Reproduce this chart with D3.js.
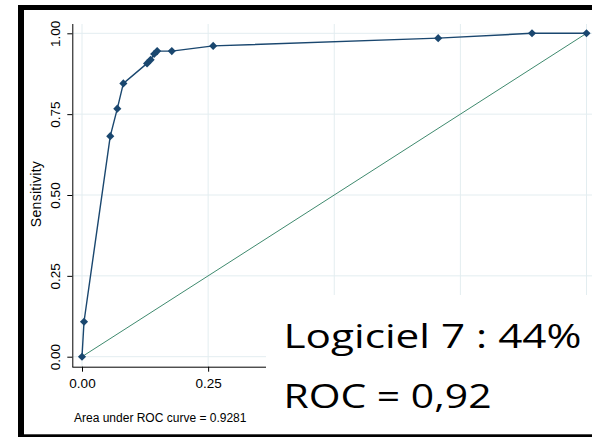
<!DOCTYPE html>
<html lang="en">
  <head>
    <style>
      body { margin: 0; background: #fff; }
      svg text { font-family: "Liberation Sans", Arial, sans-serif; }
      .grid line { stroke: #e3edf0; stroke-width: 1; }
    </style>
  </head>
  <body>
    <svg id="container" width="592" height="437"></svg>
  </body>
  <script src="https://d3js.org/d3.v7.min.js"></script>
  <script>
let svg = d3.select("#container")

// ROC points (1 - specificity, sensitivity)
let fpr  = [0, 0.004, 0.056, 0.070, 0.082, 0.129, 0.136, 0.143, 0.149, 0.178, 0.260, 0.706, 0.892, 1.0]
let sens = [0, 0.108, 0.682, 0.767, 0.845, 0.907, 0.918, 0.936, 0.945, 0.945, 0.961, 0.985, 1.0, 1.0]
let tickValues = [0, 0.25, 0.5, 0.75, 1]
let tickLabels = ["0.00", "0.25", "0.50", "0.75", "1.00"]
let yTitle = "Sensitivity"
let note = "Area under ROC curve = 0.9281"
let overlayLines = ["Logiciel 7 : 44%", "ROC = 0,92"]

let x = d3.scaleLinear().domain([0, 1]).range([82, 586.5])
let y = d3.scaleLinear().domain([0, 1]).range([356.7, 33.3])

let points = fpr.map((d, i) => ({ x: d, y: sens[i] }))

// the pasted white box hides the right part of the x axis
let box = { x: 266, y: 295 }

// grid
let grid = svg.append("g").attr("class", "grid")
grid.selectAll(".gx")
    .data(tickValues)
    .enter()
    .append("line")
        .attr("x1", d => x(d)).attr("x2", d => x(d))
        .attr("y1", 24).attr("y2", 366)
grid.selectAll(".gy")
    .data(tickValues)
    .enter()
    .append("line")
        .attr("x1", 73).attr("x2", 592)
        .attr("y1", d => y(d)).attr("y2", d => y(d))

// axes
let xAxis = d3.axisBottom(x)
    .tickValues(tickValues)
    .tickFormat((d, i) => tickLabels[i])
    .tickSize(5)
    .tickSizeOuter(0)
let yAxis = d3.axisLeft(y)
    .tickValues(tickValues)
    .tickFormat((d, i) => tickLabels[i])
    .tickSize(5)
    .tickSizeOuter(0)

let gx = svg.append("g").attr("transform", "translate(0,366.7)").call(xAxis)
gx.select(".domain").attr("d", "M72.3,0.5H592")
gx.selectAll(".tick").filter(d => x(d) > box.x).select("text").remove()
gx.selectAll("text")
    .attr("y", 12)
    .attr("dy", "0.71em")
    .style("font-size", "13.5px")
    .style("font-family", "'Liberation Sans', Arial, sans-serif")
    .attr("fill", "#000")

let gy = svg.append("g").attr("transform", "translate(72.3,0)").call(yAxis)
gy.select(".domain").attr("d", "M0.5,24V367")
gy.selectAll("text")
    .attr("x", 0).attr("dy", 0)
    .attr("text-anchor", "middle")
    .attr("transform", "translate(-12,0) rotate(-90)")
    .style("font-size", "13.5px")
    .style("font-family", "'Liberation Sans', Arial, sans-serif")
    .attr("fill", "#000")

// reference diagonal
svg.append("line")
    .attr("x1", x(0)).attr("y1", y(0))
    .attr("x2", x(1)).attr("y2", y(1))
    .attr("stroke", "#3f8a6e")
    .attr("stroke-width", 1)

// ROC curve
let line = d3.line().x(d => x(d.x)).y(d => y(d.y))
svg.append("path")
    .datum(points)
    .attr("d", line)
    .attr("fill", "none")
    .attr("stroke", "#1a476f")
    .attr("stroke-width", 1.4)

svg.append("g")
    .selectAll("path")
    .data(points)
    .enter()
    .append("path")
        .attr("d", d3.symbol(d3.symbolDiamond2, 42))
        .attr("transform", d => `translate(${x(d.x)},${y(d.y)})`)
        .attr("fill", "#1a476f")

// axis title and note
svg.append("text")
    .attr("transform", "translate(40.5,194) rotate(-90)")
    .attr("text-anchor", "middle")
    .style("font-size", "14px")
    .style("letter-spacing", "0.3px")
    .attr("fill", "#000")
    .text(yTitle)

svg.append("text")
    .attr("x", 74).attr("y", 422)
    .style("font-size", "12px")
    .attr("fill", "#000")
    .text(note)

// white box pasted over the chart with the slide text
svg.append("rect")
    .attr("x", box.x).attr("y", box.y)
    .attr("width", 592 - box.x).attr("height", 437 - box.y)
    .attr("fill", "#fff")

let overlayWidths = [298, 208]
svg.append("g")
    .selectAll("text")
    .data(overlayLines)
    .enter()
    .append("text")
        .attr("x", 283.5)
        .attr("y", (d, i) => 348.3 + i * 60)
        .attr("textLength", (d, i) => overlayWidths[i])
        .attr("lengthAdjust", "spacingAndGlyphs")
        .style("font-family", "'Open Sans', Lato, sans-serif")
        .style("font-size", "33px")
        .attr("fill", "#000")
        .text(d => d)

// slide frame
svg.append("rect").attr("x", 18).attr("y", 5).attr("width", 574).attr("height", 5).attr("fill", "#000")
svg.append("rect").attr("x", 18).attr("y", 5).attr("width", 6).attr("height", 432).attr("fill", "#000")
svg.append("rect").attr("x", 18).attr("y", 434.3).attr("width", 574).attr("height", 2.7).attr("fill", "#000")
  </script>
</html>
